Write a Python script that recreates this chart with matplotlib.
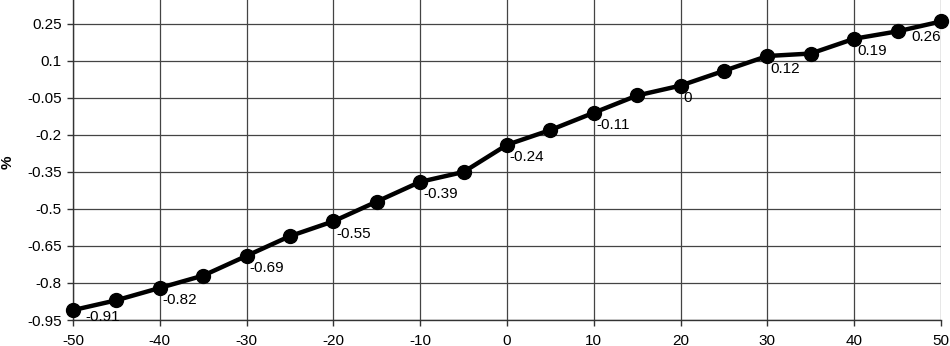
import matplotlib
matplotlib.use("Agg")
import matplotlib.pyplot as plt

x_vals = [-50, -45, -40, -35, -30, -25, -20, -15, -10, -5, 0, 5, 10, 15, 20, 25, 30, 35, 40, 45, 50]
y_vals = [-0.91, -0.87, -0.82, -0.77, -0.69, -0.61, -0.55, -0.47, -0.39, -0.35, -0.24,
          -0.18, -0.11, -0.04, 0.0, 0.06, 0.12, 0.13, 0.19, 0.22, 0.26]
x_ticks = [-50, -40, -30, -20, -10, 0, 10, 20, 30, 40, 50]
y_ticks = [-0.95, -0.8, -0.65, -0.5, -0.35, -0.2, -0.05, 0.1, 0.25]
y_ticklabels = ["-0.95", "-0.8", "-0.65", "-0.5", "-0.35", "-0.2", "-0.05", "0.1", "0.25"]

plt.rcParams['font.family'] = ['Liberation Sans', 'DejaVu Sans']
plt.rcParams['axes.unicode_minus'] = False

fig = plt.figure(figsize=(9.5, 3.46), dpi=100)
ax = fig.add_axes([73/950, 1-320/346, (941-73)/950, 320/346])

ax.plot(x_vals, y_vals, color='black', lw=3.2, marker='o', markersize=10,
        markerfacecolor='black', markeredgecolor='black', clip_on=False, zorder=3)

n = len(x_vals)
for i in range(0, n, 2):
    xv, yv = x_vals[i], y_vals[i]
    txt = f"{yv:g}"
    if i == 0:
        off, ha = (9, 0), 'left'
    elif i == n - 1:
        off, ha = (0, -6), 'right'
    else:
        off, ha = (2, -4), 'left'
    ax.annotate(txt, (xv, yv), xytext=off, textcoords='offset points',
                ha=ha, va='top', fontsize=11, color='black', zorder=4)

ax.set_xlim(-50, 50)
ax.set_ylim(-0.95, 0.347)
ax.set_xticks(x_ticks)
ax.set_yticks(y_ticks)
ax.set_yticklabels(y_ticklabels)
ax.tick_params(axis='both', labelsize=11, length=4, width=1, color='#333333', colors='black')
ax.tick_params(axis='x', pad=6)
ax.tick_params(axis='y', pad=4)
ax.grid(True, color='#444444', lw=0.9)
ax.set_axisbelow(True)
for s in ['top', 'right']:
    ax.spines[s].set_visible(False)
for s in ['left', 'bottom']:
    ax.spines[s].set_color('#333333')
    ax.spines[s].set_linewidth(1)

fig.text(8/950, 1-162/346, "%", rotation=90, ha='center', va='center',
         fontsize=11, fontweight='bold')

fig.savefig("out.png", dpi=100)
